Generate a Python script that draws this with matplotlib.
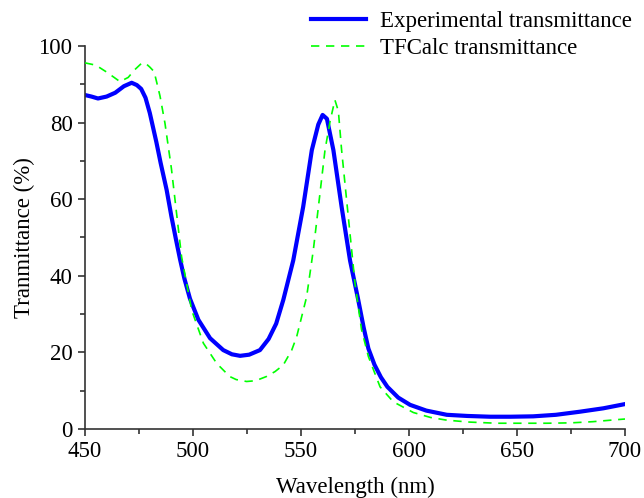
import matplotlib
matplotlib.use('Agg')
import matplotlib.pyplot as plt
from matplotlib.ticker import MultipleLocator

plt.rcParams['font.family'] = ['Liberation Serif', 'DejaVu Serif']

# Experimental transmittance
exp_wl = [450, 453, 456, 460, 464, 468, 471.6, 474, 476, 478, 480, 483, 485, 487.8,
          490, 492, 494, 496, 498.6, 502.5, 507.9, 514, 518, 521.8, 526,
          531, 535, 538.5, 541.8, 546.4, 551, 555, 558, 560, 562, 565, 568.8,
          572.7, 576.5, 579, 581.2, 584, 587, 590, 595, 600.5, 608, 617.5, 627,
          637.5, 647, 657.5, 668, 679, 690, 700]
exp_t = [87.2, 86.8, 86.3, 86.8, 87.8, 89.5, 90.4, 89.8, 88.8, 86.5, 82.5, 75, 69.5, 62.4,
         55.5, 49.8, 44.3, 39.3, 34, 28.5, 23.7, 20.6, 19.5, 19.1, 19.4,
         20.6, 23.5, 27.5, 33.7, 44, 58, 72.8, 79.5, 82, 81, 72.8, 58,
         44, 33.7, 26.5, 21, 16.8, 13.5, 11, 8.2, 6.3, 4.8, 3.7, 3.4,
         3.2, 3.2, 3.3, 3.7, 4.5, 5.4, 6.5]

# TFCalc calculated transmittance
calc_wl = [450, 455, 460, 466.2, 470, 473, 476.2, 478, 480, 482, 484.7, 487, 490,
           494.7, 499.4, 504.8, 511, 517, 520, 524.8, 529, 534, 538, 541.8, 545.7,
           548, 552.6, 555.7, 558.8, 561.1, 563.5, 565.7, 567.3, 568.8, 571.9, 575,
           578, 581.2, 586.6, 592.7, 602, 610, 617.5, 628, 640.6, 652, 663.8, 675,
           685, 697.7, 700]
calc_t = [95.6, 95, 93.2, 90.7, 91.8, 93.8, 95.5, 95.5, 94.5, 93.3, 87, 79.9, 68,
          45, 31, 22.4, 17.1, 13.7, 12.9, 12.4, 12.6, 13.7, 15, 16.7, 20.6,
          24.1, 34.5, 46.7, 61.6, 72.8, 80.5, 85.9, 83, 72.8, 55.4, 38,
          26, 18.9, 11, 7.1, 4.3, 3, 2.3, 1.8, 1.5, 1.5, 1.5, 1.6,
          1.9, 2.5, 2.6]

fig = plt.figure(figsize=(6.44, 4.98), dpi=100)
ax = fig.add_axes([0.132, 0.1386, 0.8385, 0.769])

ax.plot(exp_wl, exp_t, color='#0000ff', linewidth=3.0, label='Experimental transmittance',
        zorder=2)
ax.plot(calc_wl, calc_t, color='#00ff00', linewidth=1.2, linestyle=(0, (5, 4)),
        label='TFCalc transmittance', zorder=3)

ax.set_xlim(450, 700)
ax.set_ylim(0, 100)
ax.xaxis.set_major_locator(MultipleLocator(50))
ax.xaxis.set_minor_locator(MultipleLocator(25))
ax.yaxis.set_major_locator(MultipleLocator(20))
ax.yaxis.set_minor_locator(MultipleLocator(10))

for side in ['top', 'right']:
    ax.spines[side].set_visible(False)
for side in ['left', 'bottom']:
    ax.spines[side].set_linewidth(1.2)
    ax.spines[side].set_color('#333333')

ax.tick_params(which='major', direction='out', length=5, width=1.2, labelsize=16.5,
               color='#333333', pad=4)
ax.tick_params(which='minor', direction='out', length=3.5, width=1.2, color='#333333')

ax.set_xlabel('Wavelength (nm)', fontsize=16.5, labelpad=10)
ax.set_ylabel('Tranmittance (%)', fontsize=16.5, labelpad=2.5)

leg = ax.legend(loc='upper right', bbox_to_anchor=(1.03, 1.115), frameon=False,
                fontsize=16.5, handlelength=2.4, handletextpad=0.6, labelspacing=0.25,
                borderaxespad=0)

fig.savefig('out.png', dpi=100)
